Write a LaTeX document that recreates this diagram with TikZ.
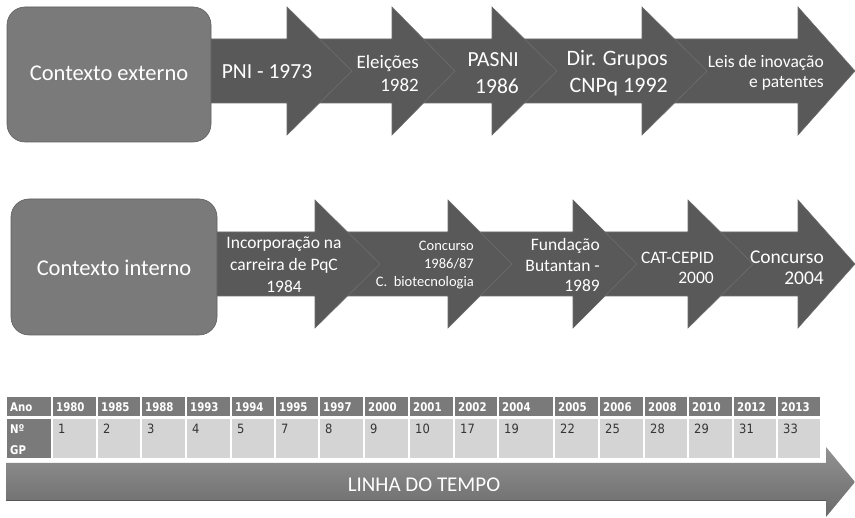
\documentclass[tikz,border=0pt]{standalone}
\usepackage{fontspec}
\setmainfont{Carlito}
\newfontfamily\tabfont[FakeStretch=0.9]{DejaVu Sans}
\newfontfamily\tabhfont[FakeStretch=0.85]{DejaVu Sans}
\definecolor{arrowgray}{HTML}{595959}
\definecolor{arrowline}{HTML}{6E6E6E}
\definecolor{boxgray}{HTML}{7A7A7A}
\definecolor{boxline}{HTML}{5E5E5E}
\definecolor{hdrgray}{HTML}{7A7A7A}
\definecolor{cellgray}{HTML}{D4D4D4}
\definecolor{numgray}{HTML}{353535}
\definecolor{tlight}{HTML}{929292}
\definecolor{tdark}{HTML}{6A6A6A}
\newcommand\chevarrow[4]{%
  \draw[arrowstyle] (#1,#4-32) -- (#2,#4-32) -- (#2,#4-64) -- (#3,#4) -- (#2,#4+64) -- (#2,#4+32) -- (#1,#4+32) -- cycle;}
\newcommand\fs[2]{\fontsize{#1}{#2}\selectfont}
\begin{document}
\begin{tikzpicture}[x=1pt,y=-1pt,
  arrowstyle/.style={fill=arrowgray,draw=arrowline,line width=0.6pt,line join=miter},
  ctxbox/.style={fill=boxgray,draw=boxline,line width=0.6pt,rounded corners=18pt},
  lbl/.style={text=white,inner sep=0pt},
  hdrcell/.style={fill=hdrgray,draw=none},
  datcell/.style={fill=cellgray,draw=none},
  hdrtxt/.style={text=white,inner sep=0pt,anchor=base west,font=\tabhfont\bfseries\fontsize{12}{14}\selectfont},
  dattxt/.style={text=numgray,inner sep=0pt,anchor=base west,font=\tabfont\fontsize{12.8}{15}\selectfont}]
\useasboundingbox (0,0) rectangle (855,518);
\fill[white] (0,0) rectangle (855,518);

% ---- top row
\chevarrow{642}{798}{855}{71}
\chevarrow{492}{642}{707}{71}
\chevarrow{392}{492}{557}{71}
\chevarrow{287}{392}{455}{71}
\chevarrow{200}{287}{352}{71}
\draw[ctxbox] (7,7) rectangle (211,142);
\node[lbl,font=\fs{22.5}{27}] (ce) at (109,73) {Contexto externo};
\node[lbl,font=\fs{21.5}{25}] (t1) at (267,72) {PNI - 1973};
\node[lbl,font=\fs{19}{23},align=right,anchor=east] (t2) at (419,73) {Eleições\\1982};
\node[lbl,font=\fs{21.5}{27},align=right,anchor=east] (t3) at (519,73) {PASNI\\1986};
\node[lbl,font=\fs{22}{27},align=right,anchor=east] (t4) at (668,73) {Dir. Grupos\\CNPq 1992};
\node[lbl,font=\fs{17.5}{20.5},align=right,anchor=east] (t5) at (824,73) {Leis de inovação\\e patentes};

% ---- middle row
\chevarrow{688}{798}{855}{264}
\chevarrow{573}{688}{753}{264}
\chevarrow{448}{573}{637}{264}
\chevarrow{315}{448}{512}{264}
\chevarrow{205}{315}{380}{264}
\draw[ctxbox] (11,199) rectangle (217,335);
\node[lbl,font=\fs{22.5}{27}] (ci) at (114,268) {Contexto interno};
\node[lbl,font=\fs{17.5}{22},align=center] (m1) at (284,265) {Incorporação na\\carreira de PqC\\1984};
\node[lbl,font=\fs{14.5}{18},align=right,anchor=east] (m2) at (474,265) {Concurso\\1986/87\\C.~~biotecnologia};
\node[lbl,font=\fs{17.5}{20.5},align=right,anchor=east] (m3) at (600,265) {Fundação\\Butantan -\\1989};
\node[lbl,font=\fs{17.5}{20.5},align=right,anchor=east] (m4) at (714,268) {CAT-CEPID\\2000};
\node[lbl,font=\fs{19.5}{21.5},align=right,anchor=east] (m5) at (824,267.5) {Concurso\\2004};

% ---- table
\fill[hdrcell] (7,397) rectangle (51,416);
\fill[hdrcell] (7,419) rectangle (51,458);
\node[hdrtxt] (hano) at (10,411.5) {Ano};
\node[hdrtxt] (hn) at (10,434) {Nº};
\node[hdrtxt] (hgp) at (10,455) {GP};
\foreach \a/\b/\yr/\n [count=\i] in {53/96/1980/1, 98/140/1985/2, 142/185/1988/3, 187/230/1993/4,
   232/274/1994/5, 276/318/1995/7, 320/363/1997/8, 365/408/2000/9, 410/453/2001/10,
   455/497/2002/17, 499/553/2004/19, 555/598/2005/22, 600/643/2006/25, 645/687/2008/28,
   689/732/2010/29, 734/776/2012/31, 778/820/2013/33}{
  \fill[hdrcell] (\a,397) rectangle (\b,416);
  \fill[datcell] (\a,419) rectangle (\b,458);
  \node[hdrtxt] (yr\i) at (\a+3,411.5) {\yr};
  \node[dattxt] (gp\i) at (\a+5,434) {\n};
}

% ---- time line arrow
\shade[top color=tlight,bottom color=tdark] (6,463) -- (826,463) -- (826,447) -- (855,482) -- (826,517) -- (826,501) -- (6,501) -- cycle;
\draw[tdark!80!black,line width=1pt] (6,500.5) -- (826,500.5);
\node[lbl,font=\fs{21}{25}] (lt) at (424,485) {LINHA DO TEMPO};
\end{tikzpicture}
\end{document}
